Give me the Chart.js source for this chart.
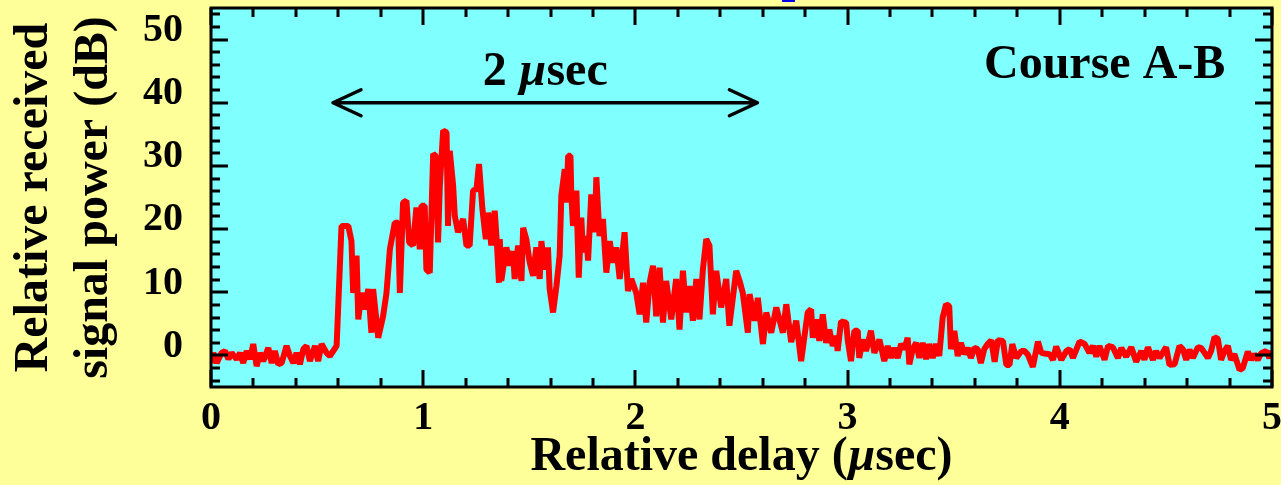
<!DOCTYPE html>
<html>
<head>
<meta charset="utf-8">
<script src="https://cdn.jsdelivr.net/npm/chart.js@4.4.1/dist/chart.umd.min.js"></script>
<style>
  html, body { margin: 0; padding: 0; background: #ffff99; }
</style>
</head>
<body>
<canvas id="chart" width="1281" height="485"></canvas>
<script>
// --- Data ---
const delayUs = [
  0.000, 0.011, 0.027, 0.050, 0.066, 0.082, 0.097, 0.121, 0.137, 0.152, 0.168, 0.184, 0.199, 0.215, 0.231, 0.246,
  0.270, 0.286, 0.301, 0.317, 0.333, 0.356, 0.372, 0.388, 0.403, 0.419, 0.435, 0.450, 0.466, 0.490, 0.505, 0.521,
  0.545, 0.560, 0.576, 0.592,
  0.615, 0.647, 0.662, 0.670, 0.686, 0.694, 0.709, 0.725, 0.741, 0.756, 0.764, 0.788, 0.811, 0.827, 0.843, 0.866,
  0.882, 0.890, 0.905, 0.921, 0.934, 0.952, 0.968, 0.984, 0.992, 1.007, 1.015, 1.031, 1.047, 1.059, 1.070, 1.078,
  1.094, 1.110, 1.117, 1.125, 1.141, 1.149, 1.164, 1.188, 1.204, 1.219, 1.235, 1.251, 1.263, 1.279, 1.295, 1.306,
  1.321, 1.337, 1.348, 1.357,
  1.361, 1.368, 1.392, 1.408, 1.423, 1.431, 1.447, 1.463, 1.471, 1.486, 1.502, 1.518, 1.533, 1.549, 1.557, 1.572,
  1.588, 1.596, 1.612, 1.628, 1.643, 1.651, 1.667, 1.675, 1.683, 1.694, 1.698, 1.706, 1.722, 1.733, 1.745, 1.753,
  1.769, 1.777, 1.792, 1.808, 1.816, 1.831, 1.847, 1.863, 1.879, 1.894, 1.910, 1.926, 1.949, 1.965, 1.981, 2.004,
  2.020, 2.036, 2.051, 2.067, 2.083, 2.098, 2.114, 2.130, 2.145, 2.169, 2.192, 2.208, 2.224, 2.239, 2.255, 2.271,
  2.287, 2.302, 2.318, 2.334, 2.349, 2.365, 2.381, 2.404, 2.428, 2.443, 2.475, 2.491, 2.506, 2.530, 2.538, 2.562,
  2.577, 2.601, 2.617, 2.640, 2.664, 2.695, 2.711, 2.734, 2.758,
  2.781, 2.797, 2.812, 2.828, 2.836, 2.852, 2.867, 2.883, 2.899, 2.914, 2.930, 2.946, 2.953, 2.969, 2.993, 3.001,
  3.016, 3.032, 3.048, 3.055, 3.071, 3.087, 3.110, 3.126, 3.150, 3.173, 3.189, 3.205, 3.220, 3.236, 3.252, 3.268,
  3.283, 3.291, 3.307, 3.323, 3.338, 3.354, 3.370, 3.385, 3.401, 3.417, 3.432, 3.448, 3.464, 3.479, 3.487, 3.503,
  3.519, 3.534, 3.550, 3.566, 3.581, 3.597, 3.613, 3.628, 3.644, 3.660,
  3.677, 3.693, 3.708, 3.732, 3.748, 3.763, 3.776, 3.795, 3.819, 3.834, 3.850, 3.873, 3.897, 3.913, 3.928, 3.952,
  3.968, 3.983, 4.007, 4.031, 4.046, 4.062, 4.093, 4.117, 4.140, 4.156, 4.172, 4.187, 4.211, 4.227, 4.250, 4.274,
  4.290, 4.313, 4.337, 4.360, 4.384, 4.399, 4.415, 4.439, 4.454, 4.470, 4.486, 4.501, 4.517, 4.541, 4.564, 4.580,
  4.596, 4.611, 4.627, 4.651, 4.666, 4.682, 4.698, 4.713, 4.729, 4.745, 4.760, 4.776, 4.792, 4.807, 4.823, 4.847,
  4.862, 4.886, 4.902, 4.917, 4.933, 4.948, 4.972, 4.988, 5.000
];
const powerDb = [
  -1.2, 0.4, -1.2, 0.4, 0.7, -0.6, 0.4, -0.6, 0.4, -1.2, 0.7, -0.6, 1.8, -1.7, 0.4, -0.9,
  1.2, -1.2, 0.7, -1.4, -1.2, 1.5, -0.1, -1.2, 0.4, -1.4, 1.0, 1.5, -0.9, 1.5, -0.9, 1.8,
  0.4, -0.1, 0.7, 1.5,
  20.5, 20.5, 18.1, 9.9, 15.8, 5.7, 9.9, 7.3, 10.5, 3.6, 10.5, 2.8, 6.2, 9.9, 16.8, 21.0,
  21.0, 9.9, 24.2, 24.5, 17.9, 17.4, 23.4, 16.8, 23.7, 23.7, 13.6, 13.1, 31.9, 31.6, 17.9, 26.6,
  35.6, 35.3, 20.5, 32.4, 26.9, 22.1, 19.5, 21.6, 17.4, 17.4, 26.1, 26.3, 30.3, 23.2, 18.4, 22.6,
  17.4, 22.9, 17.4, 11.5,
  18.4, 11.8, 17.1, 14.2, 16.5, 12.1, 17.4, 11.8, 20.2, 18.4, 14.7, 12.6, 17.1, 12.1, 18.1, 13.6,
  17.1, 10.5, 6.8, 11.0, 15.8, 25.3, 29.5, 24.2, 31.6, 31.6, 25.3, 20.5, 26.1, 12.3, 21.8, 16.3,
  18.9, 15.0, 25.5, 19.5, 28.2, 18.9, 21.6, 13.1, 18.1, 14.7, 17.1, 12.1, 19.5, 10.2, 12.1, 9.9,
  6.5, 11.5, 5.2, 11.5, 14.2, 6.2, 13.9, 5.2, 11.8, 5.7, 12.1, 4.1, 13.4, 6.8, 11.0, 5.5,
  12.1, 5.7, 13.6, 18.4, 17.4, 6.5, 13.4, 7.6, 12.1, 4.7, 13.4, 11.8, 9.9, 3.6, 9.7, 5.5,
  9.1, 1.8, 6.8, 3.6, 7.6, 3.6, 8.1, 2.1, 5.5,
  -0.9, 3.1, 6.8, 7.3, 2.8, 5.7, 2.3, 6.5, 2.0, 4.1, 1.5, 3.1, 0.7, 5.4, 5.2, 2.3,
  -0.9, 3.9, 3.9, -0.4, 2.5, 0.7, 3.9, 0.4, 2.5, -0.9, 1.5, -0.4, 1.2, -0.4, 1.8, 1.0,
  2.8, -1.4, 1.0, 2.0, -0.4, 2.0, -0.6, 1.8, -0.4, 1.8, -0.1, 6.0, 8.1, 7.8, 1.0, 3.9,
  -0.1, 2.0, 0.2, 1.2, -0.4, 1.2, 1.0, -1.2, 1.0, 1.8,
  2.4, -1.0, 2.4, 2.3, -1.5, -1.5, 1.8, -0.4, 0.7, 0.7, 0.1, -1.8, 2.2, 0.4, 0.3, 0.2,
  -0.7, 1.4, -0.7, 0.7, 1.0, -0.4, 2.2, 1.8, 0.4, 1.5, -0.2, 1.5, -0.7, 1.5, 1.3, -0.4,
  1.2, -0.2, 1.3, -1.0, 0.7, -0.7, 1.3, -0.7, 0.7, -0.4, 0.5, 1.3, -1.5, -1.4, 1.5, 1.0,
  -0.7, 0.9, -0.4, 1.3, 1.2, 0.4, -0.4, 0.7, 2.9, 2.6, -0.7, 0.7, 1.5, -0.7, 0.2, -2.3,
  -2.0, 0.6, -0.7, 0.2, -0.7, 0.3, 0.7, -0.4, 0.7
];
const xTicks = [0, 1, 2, 3, 4, 5];
const yTicks = [0, 10, 20, 30, 40, 50];
const spanArrow = [0.575, 2.575];   // the "2 µsec" arrow, in µsec
const spanArrowDb = 40;

// --- Look ---
const PAGE_BG = '#ffff99';
const PLOT_BG = '#80ffff';
const SERIF = '"Liberation Serif", "Times New Roman", serif';

const points = delayUs.map((t, i) => ({ x: t, y: powerDb[i] }));

function drawMixed(ctx, parts, x, y, align) {
  let total = 0;
  parts.forEach(p => { ctx.font = p.font; p.w = ctx.measureText(p.text).width; total += p.w; });
  let cx = align === 'center' ? x - total / 2 : align === 'right' ? x - total : x;
  ctx.textAlign = 'left';
  ctx.textBaseline = 'alphabetic';
  parts.forEach(p => { ctx.font = p.font; ctx.fillText(p.text, cx, y); cx += p.w; });
}

// no extra room for half-labels at the ends of the axes
function noEdgePadding(scale) {
  scale.paddingTop = 0;
  scale.paddingBottom = 0;
  scale.paddingLeft = 0;
  scale.paddingRight = 0;
}

const backgroundPlugin = {
  id: 'backgrounds',
  beforeDraw(chart) {
    const { ctx, chartArea: a } = chart;
    ctx.save();
    ctx.fillStyle = PAGE_BG;
    ctx.fillRect(0, 0, chart.width, chart.height);
    ctx.fillStyle = PLOT_BG;
    ctx.fillRect(a.left, a.top, a.right - a.left, a.bottom - a.top);
    ctx.restore();
  }
};

const framePlugin = {
  id: 'frame',
  afterDatasetsDraw(chart) {
    const { ctx, chartArea: a, scales } = chart;
    const xs = scales.x, ys = scales.y;
    ctx.save();
    ctx.strokeStyle = '#000';
    ctx.lineWidth = 3;
    ctx.lineCap = 'butt';
    ctx.beginPath();
    // x ticks, bottom and top, every 0.2
    for (let i = 0; i <= 25; i++) {
      const px = Math.round(xs.getPixelForValue(i * 0.2));
      const len = i % 5 === 0 ? 17 : 9;
      ctx.moveTo(px, a.bottom); ctx.lineTo(px, a.bottom - len);
      ctx.moveTo(px, a.top); ctx.lineTo(px, a.top + len);
    }
    // y ticks, left and right, every 2 dB
    for (let v = -4; v <= 54; v += 2) {
      const py = Math.round(ys.getPixelForValue(v));
      const len = v % 10 === 0 ? 17 : 9;
      ctx.moveTo(a.left, py); ctx.lineTo(a.left + len, py);
      ctx.moveTo(a.right, py); ctx.lineTo(a.right - len, py);
    }
    ctx.stroke();
    ctx.strokeRect(a.left, a.top, a.right - a.left, a.bottom - a.top);
    ctx.restore();
  },
  afterDraw(chart) {
    const { ctx, chartArea: a, scales } = chart;
    const xs = scales.x, ys = scales.y;
    ctx.save();
    ctx.fillStyle = '#000';
    ctx.strokeStyle = '#000';

    // double arrow
    const x1 = xs.getPixelForValue(spanArrow[0]);
    const x2 = xs.getPixelForValue(spanArrow[1]);
    const ay = ys.getPixelForValue(spanArrowDb);
    ctx.lineWidth = 3.5;
    ctx.lineCap = 'round';
    ctx.lineJoin = 'round';
    ctx.beginPath();
    ctx.moveTo(x1, ay); ctx.lineTo(x2, ay);
    ctx.moveTo(x1 + 28, ay - 13); ctx.lineTo(x1, ay); ctx.lineTo(x1 + 28, ay + 13);
    ctx.moveTo(x2 - 28, ay - 13); ctx.lineTo(x2, ay); ctx.lineTo(x2 - 28, ay + 13);
    ctx.stroke();

    const bold = 'bold 48px ' + SERIF;
    const boldIt = 'italic bold 48px ' + SERIF;
    drawMixed(ctx, [
      { text: '2 ', font: bold }, { text: 'µ', font: boldIt }, { text: 'sec', font: bold }
    ], (x1 + x2) / 2, ay - 18, 'center');

    drawMixed(ctx, [{ text: 'Course A-B', font: bold }], xs.getPixelForValue(4.78), a.top + 70, 'right');

    // x axis title
    drawMixed(ctx, [
      { text: 'Relative delay (', font: bold }, { text: 'µ', font: boldIt }, { text: 'sec)', font: bold }
    ], (a.left + a.right) / 2, a.bottom + 83, 'center');

    // clipped heading fragment at the very top
    ctx.fillStyle = '#0000ee';
    ctx.fillRect(782, 0, 13, 2);
    ctx.font = '30px ' + SERIF;
    ctx.textAlign = 'left';
    ctx.fillText('y', 739, -6);
    ctx.restore();
  }
};

const ctx = document.getElementById('chart').getContext('2d');
new Chart(ctx, {
  type: 'line',
  data: {
    datasets: [{
      data: points,
      borderColor: '#ff0000',
      borderWidth: 6,
      borderJoinStyle: 'bevel',
      pointRadius: 0,
      tension: 0,
      fill: false
    }]
  },
  options: {
    responsive: false,
    animation: false,
    devicePixelRatio: 1,
    layout: { padding: { top: 8, right: 9, left: 0, bottom: 0 } },
    plugins: { legend: { display: false }, tooltip: { enabled: false } },
    scales: {
      x: {
        type: 'linear',
        min: 0,
        max: 5,
        afterFit(scale) { scale.height = 98; noEdgePadding(scale); },
        afterBuildTicks(scale) { scale.ticks = xTicks.map(v => ({ value: v })); },
        grid: { display: false, drawTicks: false },
        border: { display: false },
        ticks: {
          color: '#000',
          padding: 8,
          maxRotation: 0,
          font: { family: SERIF, size: 40, weight: 'bold' }
        }
      },
      y: {
        type: 'linear',
        min: -5,
        max: 55,
        afterFit(scale) { scale.width = 211; noEdgePadding(scale); },
        afterBuildTicks(scale) { scale.ticks = yTicks.map(v => ({ value: v })); },
        grid: { display: false, drawTicks: false },
        border: { display: false },
        ticks: {
          color: '#000',
          padding: 28,
          labelOffset: -9,
          font: { family: SERIF, size: 40, weight: 'bold' }
        },
        title: {
          display: true,
          text: ['Relative received', 'signal power (dB)'],
          color: '#000',
          padding: { top: 5, bottom: 0 },
          font: { family: SERIF, size: 48, weight: 'bold', lineHeight: 1.25 }
        }
      }
    }
  },
  plugins: [backgroundPlugin, framePlugin]
});
</script>
</body>
</html>
